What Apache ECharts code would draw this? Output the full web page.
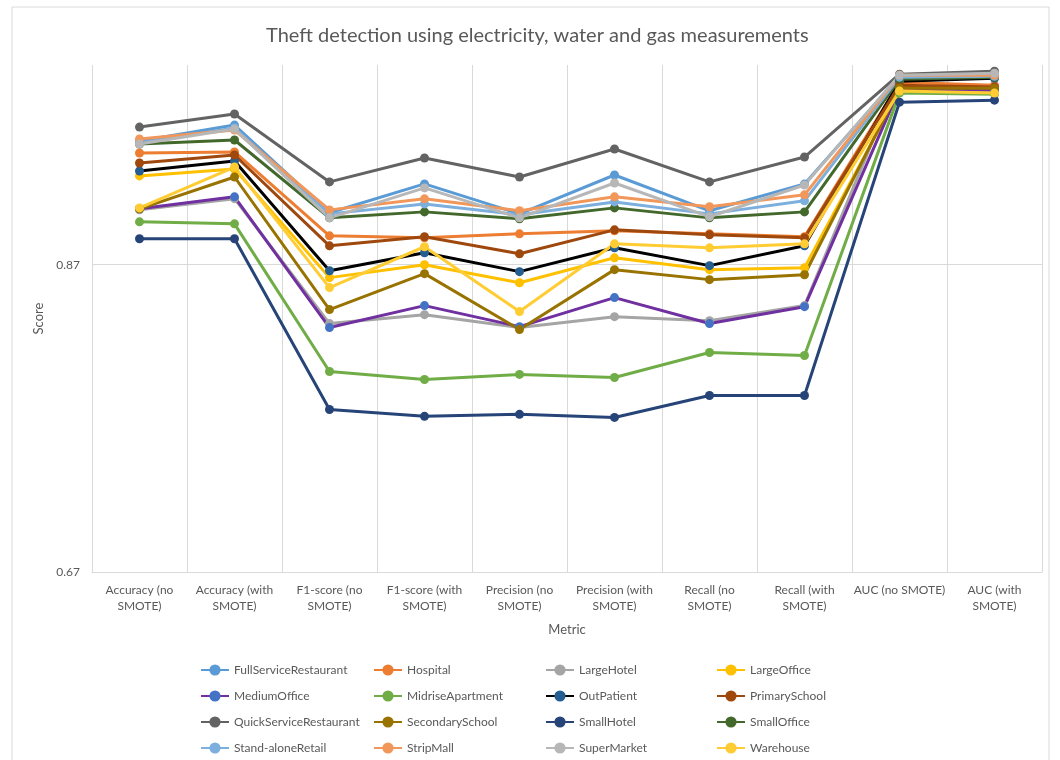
<!DOCTYPE html>
<html>
<head>
<meta charset="utf-8"/>
<title>Theft detection</title>
<script src="https://cdn.jsdelivr.net/npm/echarts@6/dist/echarts.min.js"></script>
<style>
body{margin:0;padding:0;background:#fff;}
#main{width:1060px;height:760px;}
</style>
</head>
<body>
<div id="main"></div>
<script type="text/javascript">
var metrics = ['Accuracy (no\nSMOTE)', 'Accuracy (with\nSMOTE)', 'F1-score (no\nSMOTE)', 'F1-score (with\nSMOTE)',
	'Precision (no\nSMOTE)', 'Precision (with\nSMOTE)', 'Recall (no\nSMOTE)', 'Recall (with\nSMOTE)',
	'AUC (no SMOTE)', 'AUC (with\nSMOTE)'];

var fullServiceRestaurant = [0.9505, 0.9609, 0.9038, 0.9226, 0.9031, 0.9284, 0.9051, 0.9226, 0.9927, 0.9927];
var hospital = [0.9427, 0.9434, 0.8888, 0.8875, 0.8901, 0.8921, 0.8901, 0.8882, 0.9888, 0.9869];
var largeHotel = [0.9058, 0.9130, 0.8317, 0.8375, 0.8291, 0.8362, 0.8336, 0.8434, 0.9927, 0.9940];
var largeOffice = [0.9278, 0.9323, 0.8616, 0.8700, 0.8583, 0.8745, 0.8668, 0.8681, 0.9830, 0.9830];
var mediumOffice = [0.9064, 0.9142, 0.8291, 0.8434, 0.8297, 0.8486, 0.8317, 0.8427, 0.9843, 0.9836];
var midriseApartment = [0.8979, 0.8966, 0.8005, 0.7953, 0.7986, 0.7966, 0.8129, 0.8109, 0.9817, 0.9810];
var outPatient = [0.9310, 0.9375, 0.8661, 0.8778, 0.8655, 0.8810, 0.8694, 0.8823, 0.9895, 0.9914];
var primarySchool = [0.9362, 0.9414, 0.8823, 0.8882, 0.8771, 0.8927, 0.8895, 0.8875, 0.9869, 0.9856];
var quickServiceRestaurant = [0.9596, 0.9681, 0.9239, 0.9395, 0.9271, 0.9453, 0.9239, 0.9401, 0.9940, 0.9960];
var secondarySchool = [0.9064, 0.9271, 0.8408, 0.8642, 0.8278, 0.8668, 0.8603, 0.8635, 0.9849, 0.9849];
var smallHotel = [0.8869, 0.8869, 0.7758, 0.7713, 0.7726, 0.7706, 0.7849, 0.7849, 0.9758, 0.9771];
var smallOffice = [0.9486, 0.9512, 0.9005, 0.9044, 0.8999, 0.9070, 0.9005, 0.9044, 0.9908, 0.9921];
var standaloneRetail = [0.9492, 0.9590, 0.9031, 0.9096, 0.9025, 0.9109, 0.9031, 0.9116, 0.9921, 0.9927];
var stripMall = [0.9518, 0.9577, 0.9057, 0.9129, 0.9051, 0.9142, 0.9077, 0.9155, 0.9934, 0.9934];
var superMarket = [0.9486, 0.9583, 0.9005, 0.9200, 0.9005, 0.9232, 0.9012, 0.9219, 0.9934, 0.9947];
var warehouse = [0.9070, 0.9336, 0.8551, 0.8817, 0.8395, 0.8836, 0.8810, 0.8836, 0.9830, 0.9817];

// name, values, line colour, marker colour
var buildings = [
	['FullServiceRestaurant', fullServiceRestaurant, '#5B9BD5', '#5B9BD5'],
	['Hospital', hospital, '#ED7D31', '#ED7D31'],
	['LargeHotel', largeHotel, '#A5A5A5', '#A5A5A5'],
	['LargeOffice', largeOffice, '#FFC000', '#FFC000'],
	['MediumOffice', mediumOffice, '#7030A0', '#4472C4'],
	['MidriseApartment', midriseApartment, '#70AD47', '#70AD47'],
	['OutPatient', outPatient, '#000000', '#255E91'],
	['PrimarySchool', primarySchool, '#9E480E', '#9E480E'],
	['QuickServiceRestaurant', quickServiceRestaurant, '#636363', '#636363'],
	['SecondarySchool', secondarySchool, '#997300', '#997300'],
	['SmallHotel', smallHotel, '#264478', '#264478'],
	['SmallOffice', smallOffice, '#43682B', '#43682B'],
	['Stand-aloneRetail', standaloneRetail, '#7CAFDD', '#7CAFDD'],
	['StripMall', stripMall, '#F1975A', '#F1975A'],
	['SuperMarket', superMarket, '#B7B7B7', '#B7B7B7'],
	['Warehouse', warehouse, '#FFCD33', '#FFCD33']
];

var FONT = 'Lato, "Liberation Sans", sans-serif';

var series = buildings.map(function(b){
	return {
		name: b[0],
		type: 'line',
		data: b[1],
		symbol: 'circle',
		symbolSize: 9,
		lineStyle: {color: b[2], width: 3},
		itemStyle: {color: b[3]},
		emphasis: {disabled: true}
	};
});

// legend is 4 columns, Excel fills it row by row
var legendCols = [195, 368, 540, 711];
var legends = legendCols.map(function(x, col){
	var names = [];
	for (var i = col; i < buildings.length; i += 4) names.push(buildings[i][0]);
	return {
		orient: 'vertical',
		left: x,
		top: 659,
		itemWidth: 28,
		itemHeight: 14,
		itemGap: 14,
		textStyle: {fontFamily: FONT, fontSize: 12, color: '#595959'},
		data: names
	};
});

var myChart = echarts.init(document.getElementById('main'));
var option = {
	animation: false,
	textStyle: {fontFamily: FONT},
	graphic: [{
		type: 'rect',
		shape: {x: 12, y: 7, width: 1037, height: 770},
		style: {fill: 'none', stroke: '#d9d9d9', lineWidth: 1},
		silent: true
	}],
	title: {
		text: 'Theft detection using electricity, water and gas measurements',
		left: 261,
		top: 21,
		textStyle: {fontFamily: FONT, fontWeight: 'normal', fontSize: 20, color: '#595959'}
	},
	grid: {left: 92, right: 18, top: 65, bottom: 188},
	legend: legends,
	xAxis: {
		type: 'category',
		data: metrics,
		boundaryGap: true,
		name: 'Metric',
		nameLocation: 'middle',
		nameGap: 51,
		nameTextStyle: {fontFamily: FONT, fontSize: 13, color: '#595959'},
		axisLine: {lineStyle: {color: '#d9d9d9'}},
		axisTick: {show: false},
		axisLabel: {interval: 0, fontFamily: FONT, fontSize: 12, color: '#595959', lineHeight: 16, margin: 10},
		splitLine: {show: true, lineStyle: {color: '#d9d9d9'}}
	},
	yAxis: {
		type: 'value',
		min: 0.67,
		max: 1.0,
		interval: 0.2,
		name: 'Score',
		nameLocation: 'middle',
		nameGap: 46,
		nameTextStyle: {fontFamily: FONT, fontSize: 13, color: '#595959'},
		axisLine: {show: false},
		axisTick: {show: false},
		axisLabel: {showMaxLabel: false, fontFamily: FONT, fontSize: 12, color: '#595959', margin: 12},
		splitLine: {show: true, lineStyle: {color: ['#d9d9d9', '#d9d9d9', 'rgba(0,0,0,0)']}}
	},
	series: series
};
myChart.setOption(option);
</script>
</body>
</html>
